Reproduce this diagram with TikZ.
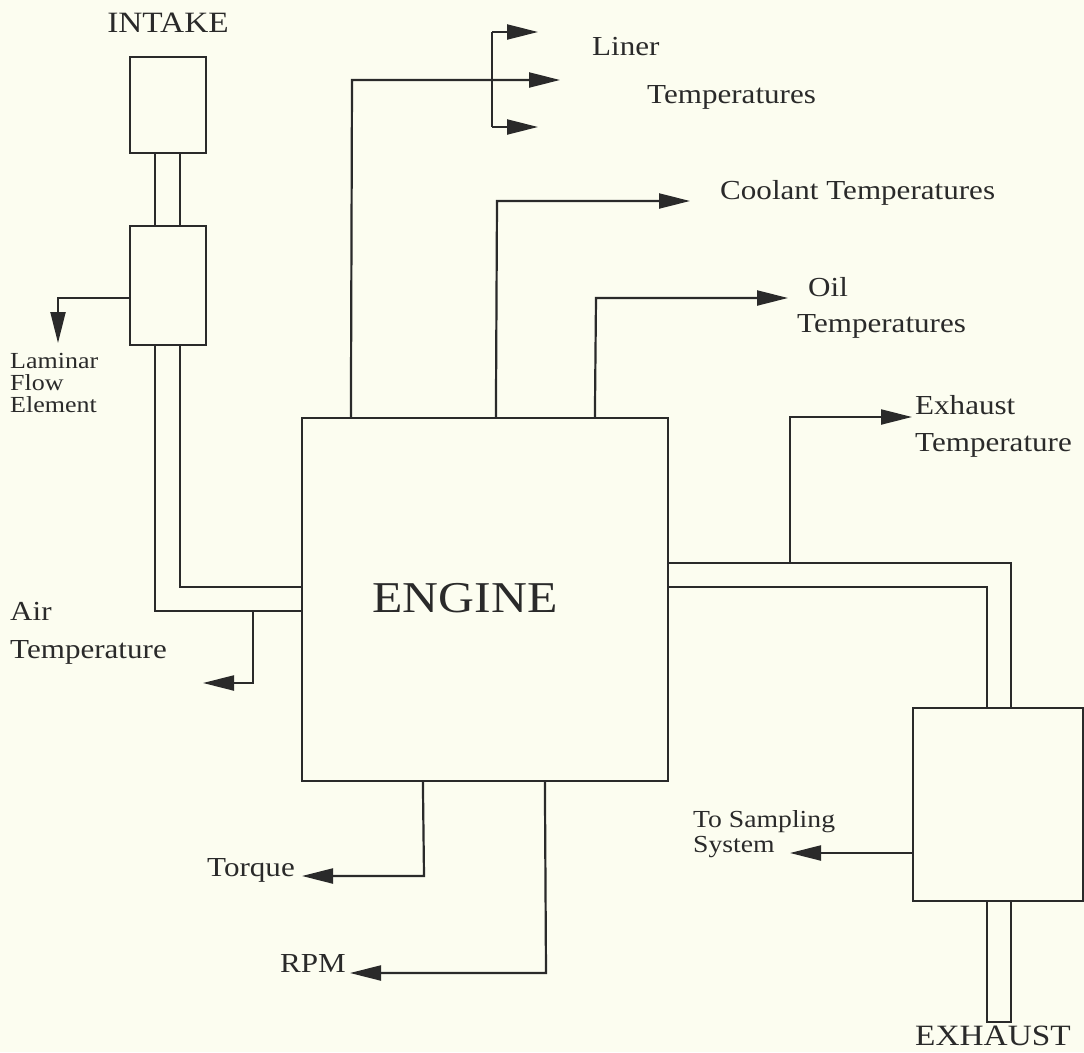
\documentclass[tikz,border=0pt]{standalone}
\usepackage{fontspec}
\setmainfont{Liberation Serif}[FakeStretch=1.13]
\usetikzlibrary{arrows.meta,positioning}
\definecolor{bgcol}{HTML}{FCFDF0}
\definecolor{ink}{HTML}{2A2A2A}
\tikzset{
  box/.style={draw=ink, line width=2.2pt, inner sep=0pt},
  pipe/.style={draw=ink, line width=2.2pt},
  sig/.style={draw=ink, line width=2.2pt, -{Triangle[length=31pt,width=15pt]}},
  lbl/.style={anchor=base west, inner sep=0pt, text=ink, font=\fontsize{27.5}{27.5}\selectfont},
  big/.style={anchor=base west, inner sep=0pt, text=ink, font=\fontsize{29.5}{29.5}\selectfont},
  small/.style={anchor=base west, inner sep=0pt, text=ink, font=\fontsize{23}{23}\selectfont},
  smallb/.style={anchor=base west, inner sep=0pt, text=ink, font=\fontsize{24.5}{24.5}\selectfont},
}
\begin{document}
\begin{tikzpicture}[x=1pt,y=-1pt]
\fill[bgcol] (0,0) rectangle (1084,1052);
\useasboundingbox (0,0) rectangle (1084,1052);
% boxes
\node[box, minimum width=76pt, minimum height=96pt] (intake) at (168,105) {};
\node[box, minimum width=76pt, minimum height=119pt] (lfe) at (168,285.5) {};
\node[box, minimum width=366pt, minimum height=363pt] (engine) at (485,599.5) {};
\node[box, minimum width=170pt, minimum height=193pt] (exbox) at (998,804.5) {};
\node[text=ink, inner sep=0pt, font=\fontsize{44}{44}\selectfont] (englbl) at (465,598) {ENGINE};
% pipes
\draw[pipe] (155,153) -- (155,226);
\draw[pipe] (180,153) -- (180,226);
\draw[pipe] (155,345) -- (155,611) -- (302,611);
\draw[pipe] (180,345) -- (180,587) -- (302,587);
\draw[pipe] (668,563) -- (1011,563) -- (1011,708);
\draw[pipe] (668,587) -- (987,587) -- (987,708);
\draw[pipe] (987,901) -- (987,1022) -- (1011,1022) -- (1011,901);
% named connection points
\coordinate (lfetap) at (130,298);
\coordinate (lfebend) at (58,298);
\coordinate (lfeend) at (58,343);
\coordinate (airtap) at (253,611);
\coordinate (airbend) at (253,683);
\coordinate (airend) at (203,683);
\coordinate (extap) at (790,563);
\coordinate (exbend) at (790,417);
\coordinate (exend) at (912,417);
\coordinate (linerbend) at (352,80);
\coordinate (linerend) at (560,80);
\coordinate (brtop) at (492,32);
\coordinate (brbot) at (492,127);
\coordinate (brtopend) at (538,32);
\coordinate (brbotend) at (538,127);
\coordinate (coolbend) at (497,201);
\coordinate (coolend) at (690,201);
\coordinate (oilbend) at (596,298);
\coordinate (oilend) at (788,298);
\coordinate (torqbend) at (424,876);
\coordinate (torqend) at (302,876);
\coordinate (rpmbend) at (546,973);
\coordinate (rpmend) at (350,973);
\coordinate (samptap) at (913,853);
\coordinate (sampend) at (790,853);
% connectors
\draw[sig] (lfetap) -- (lfebend) -- (lfeend);
\draw[sig] (airtap) -- (airbend) -- (airend);
\draw[sig] (extap) -- (exbend) -- (exend);
\draw[sig] ([xshift=50pt]engine.north west) -- (linerbend) -- (linerend);
\draw[pipe] (brtop) -- (brbot);
\draw[sig] (brtop) -- (brtopend);
\draw[sig] (brbot) -- (brbotend);
\draw[sig] ([xshift=195pt]engine.north west) -- (coolbend) -- (coolend);
\draw[sig] ([xshift=294pt]engine.north west) -- (oilbend) -- (oilend);
\draw[sig] ([xshift=122pt]engine.south west) -- (torqbend) -- (torqend);
\draw[sig] ([xshift=244pt]engine.south west) -- (rpmbend) -- (rpmend);
\draw[sig] (samptap) -- (sampend);
% labels
\node[big, anchor=base] (tintake) at (168,32) {INTAKE};
\node[lbl] (tliner) at (592,55) {Liner};
\node[lbl] (tlinert) at (647,103) {Temperatures};
\node[lbl] (tcool) at (720,199) {Coolant Temperatures};
\node[lbl] (toil) at (808,296) {Oil};
\node[lbl] (toilt) at (797,332) {Temperatures};
\node[lbl] (texh) at (915,414) {Exhaust};
\node[lbl] (texht) at (915,451) {Temperature};
\node[small] (tlam) at (10,368) {Laminar};
\node[small] (tflow) at (10,390) {Flow};
\node[small] (telem) at (10,412) {Element};
\node[lbl] (tair) at (10,620) {Air};
\node[lbl] (tairt) at (10,658) {Temperature};
\node[smallb] (tsamp) at (693,827) {To Sampling};
\node[smallb] (tsys) at (693,852) {System};
\node[lbl] (ttorq) at (207,876) {Torque};
\node[lbl] (trpm) at (280,972) {RPM};
\node[big] (texhaust) at (915,1045) {EXHAUST};
\end{tikzpicture}
\end{document}
